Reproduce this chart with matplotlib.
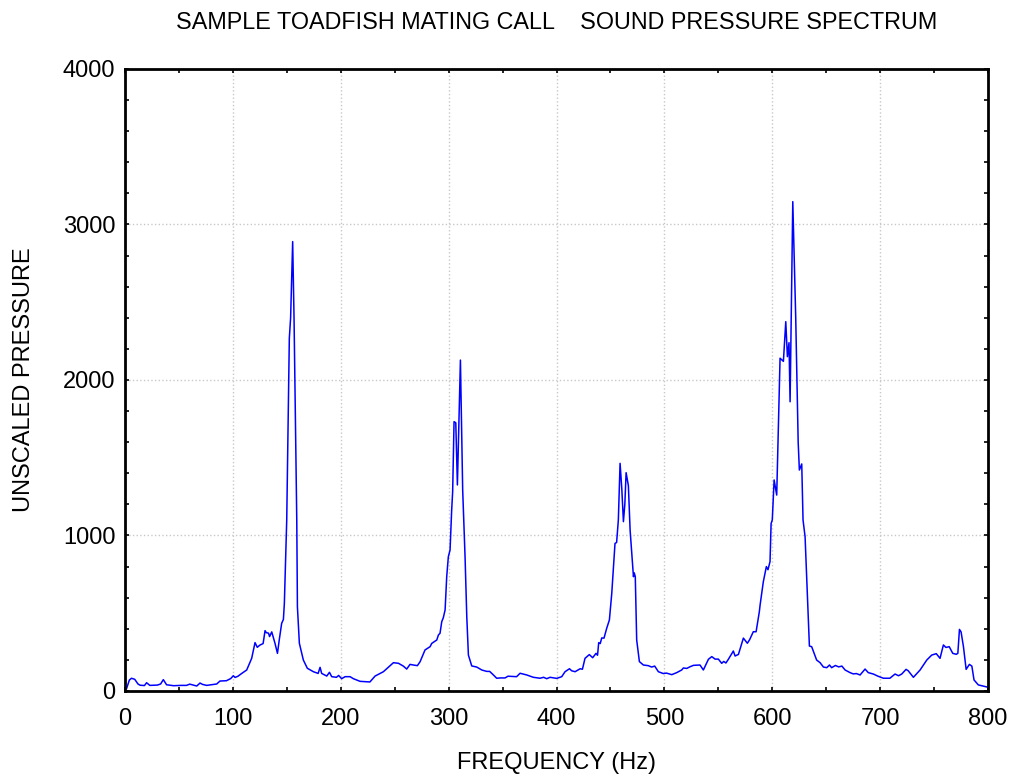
import matplotlib
matplotlib.use("Agg")
import matplotlib.pyplot as plt
from matplotlib.ticker import MultipleLocator

plt.rcParams['font.family'] = ['Liberation Sans', 'DejaVu Sans']

# frequency (Hz) and unscaled pressure
freq = [1.5, 4, 6, 9, 12, 14, 18, 20, 23, 30, 33, 35.5, 38.5, 45, 52, 57, 60, 66.5, 69.5, 72,
        75.7, 80, 85, 88, 94, 98, 100.4, 102, 104.7, 108, 112.8, 117.4, 120.5, 122.6, 125, 128,
        129.8, 131, 133, 134, 136, 139, 141.3, 143, 145.2, 146.8, 147.7, 149.9, 152.3, 153.5,
        155.4, 156.7, 159.2, 159.8, 161.6, 165.3, 169, 174.6, 179, 180.8, 182.3, 187, 189.5,
        191.6, 196, 198, 200.8, 204, 208.6, 211.7, 217.9, 227, 231.8, 239.5, 248.8, 253.5, 258,
        261.1, 264.2, 267.3, 271, 273.5, 278.1, 282.8, 284.3, 289, 290.5, 292, 293.6, 295, 296.7,
        298.2, 299.7, 301.3, 302.8, 303.7, 305, 306.6, 308.1, 310.9, 313, 315.2, 316.8, 318.3,
        321.4, 326, 330.7, 335.3, 338, 341.5, 344.5, 348, 352.3, 355, 363, 366.2, 372.4, 378.5,
        384.7, 388, 390.9, 394, 400.2, 404.8, 407.9, 412, 414, 417.2, 421.9, 424, 426.4, 430.4,
        433.5, 436.6, 438, 439.1, 440.5, 441.9, 444, 446.5, 449, 451.2, 454.2, 455.7, 457.3,
        458.9, 460.5, 462, 463.3, 464.5, 466.6, 468.2, 471.3, 472, 473, 474.3, 476.8, 480.5, 485,
        488.1, 491, 494.4, 499, 502, 506.8, 511.4, 516, 517.6, 520.7, 523.8, 527, 533, 536.1,
        540.8, 543.9, 547, 550, 553.1, 555, 557, 559.3, 563.9, 565.5, 568.6, 571.7, 573.2, 576.9,
        579, 582.4, 585, 588, 588.7, 591.7, 594.5, 596, 597.9, 598.9, 600, 601.7, 604.1, 607.2,
        610.3, 612.5, 614, 615.5, 616.5, 619, 621.7, 624, 625.1, 627.3, 628.5, 630.4, 634.4,
        636.5, 641.1, 644.3, 647.4, 650.5, 653, 655, 658.5, 661.5, 664.5, 667.5, 672.1, 675, 678,
        681.4, 686, 689, 693.7, 698, 703, 709, 713.8, 717, 720, 724, 726, 730.8, 737, 743.2,
        747.8, 752, 755.5, 758.6, 761, 764, 767.3, 770.5, 772, 773.5, 775, 777.2, 779.7, 782.7,
        785, 787, 791, 800]
pressure = [17, 70, 82, 75, 45, 37, 35, 53, 36, 38, 45, 73, 40, 34, 36, 36, 44, 32, 51, 42,
            36, 40, 45, 64, 66, 80, 98, 87, 95, 112, 135, 210, 311, 281, 295, 305,
            388, 375, 372, 350, 380, 307, 242, 330, 435, 460, 564, 1100, 2268, 2400,
            2890, 2386, 1100, 542, 307, 199, 146, 124, 113, 152, 113, 96, 120,
            92, 88, 100, 79, 92, 92, 79, 62, 58, 96, 124, 182, 178, 160,
            141, 171, 167, 163, 188, 264, 285, 306, 328, 360, 371, 446, 470, 521,
            735, 863, 907, 1164, 1280, 1732, 1725, 1325, 2128, 1293, 864, 478, 231,
            161, 154, 135, 126, 126, 103, 82, 84, 84, 95, 92, 114, 103, 88,
            82, 88, 79, 88, 81, 92, 124, 143, 130, 124, 143, 140, 210, 234,
            214, 242, 230, 311, 305, 341, 340, 403, 457, 628, 949, 955, 1100,
            1464, 1300, 1089, 1200, 1404, 1320, 1035, 735, 760, 735, 328, 189, 167, 163,
            154, 160, 124, 112, 115, 105, 118, 135, 148, 145, 156, 165, 167, 135,
            204, 221, 205, 205, 178, 190, 180, 204, 257, 225, 235, 306, 340, 307,
            330, 381, 381, 510, 553, 703, 800, 780, 832, 1077, 1100, 1357, 1260, 2140,
            2120, 2375, 2150, 2240, 1860, 3147, 2407, 1600, 1421, 1460, 1100, 992, 289,
            285, 199, 182, 154, 150, 167, 150, 164, 155, 160, 135, 118, 110, 112,
            103, 141, 118, 109, 95, 82, 82, 109, 98, 109, 139, 130, 88, 135, 199,
            231, 240, 210, 296, 280, 285, 242, 236, 242, 396, 380, 285, 139, 171,
            160, 71, 39, 24]

fig = plt.figure(figsize=(10.14, 7.77), dpi=100)
ax = fig.add_axes([0.1233, 0.1107, 0.8511, 0.8005])

ax.plot(freq, pressure, color="#0000ff", linewidth=1.1)

ax.set_xlim(0, 800)
ax.set_ylim(0, 4000)
ax.xaxis.set_major_locator(MultipleLocator(100))
ax.yaxis.set_major_locator(MultipleLocator(1000))
ax.xaxis.set_minor_locator(MultipleLocator(50))
ax.yaxis.set_minor_locator(MultipleLocator(200))
ax.tick_params(which="both", direction="in", length=3, width=1.2,
               top=True, right=True, labelsize=17)
ax.tick_params(axis="x", which="both", pad=12)
ax.tick_params(axis="y", which="both", pad=7)
ax.grid(True, which="major", color="#c8c8c8", linestyle=":", linewidth=1)
for s in ax.spines.values():
    s.set_linewidth(2)

ax.set_title("SAMPLE TOADFISH MATING CALL    SOUND PRESSURE SPECTRUM",
             fontsize=16.8, pad=29)
ax.set_xlabel("FREQUENCY (Hz)", fontsize=17, labelpad=16)
ax.set_ylabel("UNSCALED PRESSURE", fontsize=17, labelpad=20)

fig.savefig("out.png", dpi=100)
